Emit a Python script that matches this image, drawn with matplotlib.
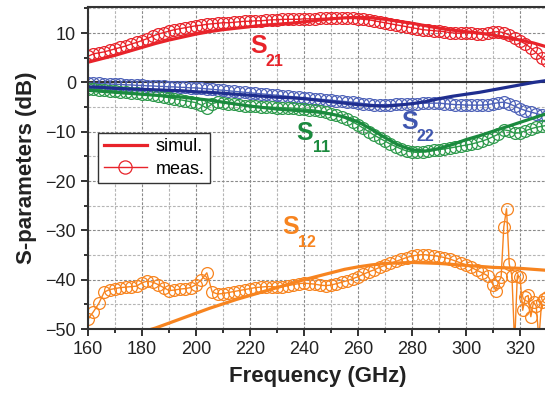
import numpy as np
import matplotlib.pyplot as plt

plt.rcParams['font.family'] = ['Liberation Sans', 'DejaVu Sans']

# simulated curves (5 GHz step)
f_sim = np.arange(160, 331, 5)
s21_sim = [4.1, 4.8, 5.5, 6.3, 7.1, 7.9, 8.6, 9.2, 9.8, 10.3, 10.7, 11.0, 11.3, 11.6,
           11.8, 12.0, 12.3, 12.6, 12.9, 13.1, 13.2, 13.1, 12.8, 12.4, 12.0, 11.5, 11.0,
           10.6, 10.3, 10.0, 9.6, 9.1, 8.6, 8.0, 7.2]
s22_sim = [-0.9, -1.0, -1.2, -1.3, -1.4, -1.5, -1.6, -1.7, -1.9, -2.0, -2.2, -2.4, -2.6,
           -2.8, -3.0, -3.1, -3.3, -3.6, -3.9, -4.2, -4.5, -4.7, -4.8, -4.6, -4.3, -3.9,
           -3.3, -2.8, -2.4, -2.0, -1.5, -1.0, -0.5, 0.0, 0.4]
s11_sim = [-1.6, -1.8, -2.0, -2.2, -2.4, -2.6, -2.8, -3.0, -3.3, -3.6, -4.0, -4.4, -4.8,
           -5.1, -5.4, -5.6, -5.8, -6.0, -6.4, -7.0, -8.0, -9.5, -11.2, -12.7, -13.7,
           -13.9, -13.4, -12.6, -11.6, -10.8, -9.9, -9.0, -8.1, -7.2, -6.3]
s12_sim = [-54.0, -53.0, -52.2, -51.4, -50.6, -49.8, -48.8, -47.8, -46.8, -45.8, -44.9,
           -44.0, -43.2, -42.4, -41.6, -40.8, -40.0, -39.3, -38.6, -37.9, -37.4, -37.0,
           -36.7, -36.6, -36.5, -36.6, -36.7, -36.9, -37.1, -37.3, -37.5, -37.6, -37.7,
           -37.9, -38.1]

# measured curves (2 GHz step)
f_meas = np.arange(160, 331, 2)
s21_meas = [5.3, 5.8, 6.0, 6.2, 6.5, 6.8, 7.1, 7.4, 7.8, 8.1, 8.5, 8.9, 9.4, 9.8, 10.1,
            10.4, 10.7, 10.9, 11.1, 11.3, 11.5, 11.6, 11.8, 11.9, 12.0, 12.1, 12.1, 12.2,
            12.3, 12.4, 12.4, 12.5, 12.5, 12.6, 12.7, 12.7, 12.8, 12.8, 12.8, 12.8, 12.9,
            12.9, 12.9, 13.0, 13.0, 13.0, 13.0, 13.0, 13.0, 13.0, 12.9, 12.8, 12.7, 12.5,
            12.3, 12.1, 11.9, 11.7, 11.5, 11.3, 11.1, 10.9, 10.7, 10.6, 10.5, 10.4, 10.3,
            10.1, 10.0, 10.0, 10.1, 10.0, 9.9, 9.9, 10.0, 10.2, 10.3, 10.1, 9.6, 9.0, 8.4,
            7.8, 7.0, 6.0, 5.0, 4.3]
s22_meas = [-0.1, -0.2, -0.2, -0.3, -0.3, -0.4, -0.4, -0.5, -0.5, -0.6, -0.6, -0.7, -0.7,
            -0.8, -0.8, -0.9, -0.9, -1.0, -1.0, -1.1, -1.1, -1.2, -1.3, -1.4, -1.5, -1.6,
            -1.7, -1.8, -1.9, -2.0, -2.1, -2.2, -2.3, -2.4, -2.5, -2.6, -2.7, -2.8, -2.9,
            -3.0, -3.1, -3.2, -3.3, -3.4, -3.5, -3.6, -3.7, -3.8, -3.9, -4.0, -4.1, -4.3,
            -4.4, -4.5, -4.5, -4.5, -4.5, -4.4, -4.4, -4.3, -4.3, -4.3, -4.2, -4.2, -4.2,
            -4.2, -4.3, -4.4, -4.5, -4.5, -4.6, -4.6, -4.6, -4.6, -4.5, -4.3, -4.1, -4.0,
            -4.3, -4.8, -5.3, -5.7, -6.0, -6.3, -6.6, -6.8]
s11_meas = [-1.3, -1.4, -1.5, -1.6, -1.7, -1.8, -1.9, -2.0, -2.1, -2.2, -2.3, -2.4, -2.5,
            -2.7, -2.9, -3.1, -3.3, -3.5, -3.7, -3.9, -4.1, -4.6, -5.2, -4.3, -4.0, -4.1,
            -4.3, -4.4, -4.6, -4.7, -4.8, -4.8, -4.9, -5.0, -5.0, -5.1, -5.1, -5.2, -5.2,
            -5.3, -5.4, -5.5, -5.6, -5.8, -6.0, -6.3, -6.6, -7.0, -7.5, -8.0, -8.6, -9.3,
            -10.0, -10.7, -11.3, -11.9, -12.5, -13.0, -13.5, -13.9, -14.1, -14.2, -14.1,
            -14.0, -13.8, -13.6, -13.5, -13.3, -13.1, -12.9, -12.7, -12.5, -12.2, -11.9,
            -11.5, -11.0, -10.5, -9.6, -9.8, -10.3, -10.2, -9.8, -9.4, -9.1, -8.9, -8.7]

f_s12 = [160, 162, 164, 166, 168, 170, 172, 174, 176, 178, 180, 182, 184, 186, 188, 190,
         192, 194, 196, 198, 200, 202, 204, 206, 208, 210, 212, 214, 216, 218, 220, 222,
         224, 226, 228, 230, 232, 234, 236, 238, 240, 242, 244, 246, 248, 250, 252, 254,
         256, 258, 260, 262, 264, 266, 268, 270, 272, 274, 276, 278, 280, 282, 284, 286,
         288, 290, 292, 294, 296, 298, 300, 302, 304, 306, 308, 310, 311, 312, 313, 314,
         315, 316, 317, 318, 319, 320, 321, 322, 323, 324, 325, 326, 327, 328, 329, 330]
s12_meas = [-48.0, -46.5, -44.8, -42.5, -42.0, -41.8, -41.6, -41.5, -41.4, -41.3, -40.6,
            -40.3, -40.5, -41.0, -41.6, -42.2, -42.1, -41.9, -41.8, -41.6, -41.0, -40.0,
            -38.6, -42.5, -42.9, -42.8, -42.6, -42.4, -42.2, -42.0, -41.8, -41.6, -41.5,
            -41.4, -41.4, -41.5, -41.4, -41.2, -41.0, -40.8, -40.7, -40.8, -40.9, -41.1,
            -41.2, -41.1, -40.8, -40.5, -40.2, -39.8, -39.4, -38.9, -38.4, -38.0, -37.5,
            -37.1, -36.7, -36.3, -35.9, -35.5, -35.2, -35.0, -34.9, -35.0, -35.1, -35.3,
            -35.5, -35.8, -36.2, -36.6, -37.0, -37.5, -38.1, -38.6, -39.2, -41.0, -42.2,
            -40.5, -39.5, -29.3, -25.6, -36.8, -39.2, -53.0, -39.2, -39.4, -46.2, -43.5,
            -43.2, -47.5, -44.5, -45.4, -52.0, -44.5, -43.9, -43.5]

red = '#E8232A'
green_sim, green_meas = '#1B8A3E', '#2E9A4C'
blue_sim, blue_meas = '#1F2E8F', '#4E62B8'
orange = '#F7841F'

fig = plt.figure(figsize=(5.45, 3.99), dpi=100)
ax = fig.add_axes([0.1615, 0.1754, 0.8422, 0.8071])

mk = dict(marker='o', markerfacecolor='none', markersize=8.5, markeredgewidth=0.9, lw=1)
ax.plot(f_meas, s21_meas, color=red, **mk)
ax.plot(f_meas, s22_meas, color=blue_meas, **mk)
ax.plot(f_meas, s11_meas, color=green_meas, **mk)
ax.plot(f_s12, s12_meas, color=orange, **mk)

ax.plot(f_sim, s21_sim, color=red, lw=2.3)
ax.plot(f_sim, s22_sim, color=blue_sim, lw=2.3)
ax.plot(f_sim, s11_sim, color=green_sim, lw=2.3)
ax.plot(f_sim, s12_sim, color=orange, lw=2.3)

ax.axhline(0, color='#333333', lw=1.5, zorder=1)

ax.set_xlim(160, 330)
ax.set_ylim(-50, 15.3)
ax.set_xticks(np.arange(160, 331, 20))
ax.set_xticks(np.arange(170, 331, 20), minor=True)
ax.set_yticks(np.arange(-50, 11, 10))
ax.set_yticks(np.arange(-45, 16, 10), minor=True)
ax.grid(which='major', color='#8a8a8a', ls=(0, (2.5, 1.5)), lw=0.8, zorder=0)
ax.grid(which='minor', color='#b5b5b5', ls=(0, (2.5, 1.5)), lw=0.8, zorder=0)
ax.set_axisbelow(True)
ax.tick_params(which='major', direction='out', length=5, width=1.3, labelsize=13,
               colors='#222222')
ax.tick_params(which='minor', direction='out', length=3, width=1.3, colors='#222222')
for sp in ax.spines.values():
    sp.set_color('#333333')
    sp.set_linewidth(1.5)

ax.set_xlabel('Frequency (GHz)', fontsize=16, fontweight='bold', color='#222222', labelpad=6)
ax.set_ylabel('S-parameters (dB)', fontsize=16, fontweight='bold', color='#222222', labelpad=6)

# curve labels
labels = [('21', 223, 7.3, red), ('11', 240.4, -10.3, green_sim),
          ('22', 279.1, -8.0, '#3F56B0'), ('12', 235.2, -29.4, orange)]
for sub, x, y, c in labels:
    ax.text(x, y, 'S', color=c, fontsize=18, fontweight='bold', ha='center', va='center')
    ax.annotate(sub, (x, y), xytext=(11.5, -10.5), textcoords='offset points', color=c,
                fontsize=11.5, fontweight='bold', ha='center', va='center')

h1, = ax.plot([], [], color=red, lw=2.3)
h2, = ax.plot([], [], color=red, **mk)
h2.set_markersize(9.5)
leg = ax.legend([h1, h2], ['simul.', 'meas.'], loc='upper left',
                bbox_to_anchor=(0.022, 0.609), borderaxespad=0, fontsize=13,
                handlelength=2.4, fancybox=False, framealpha=1, edgecolor='#333333',
                borderpad=0.3, labelspacing=0.3, handletextpad=0.5)
leg.get_frame().set_linewidth(1.0)

plt.savefig('out.png', dpi=100)
